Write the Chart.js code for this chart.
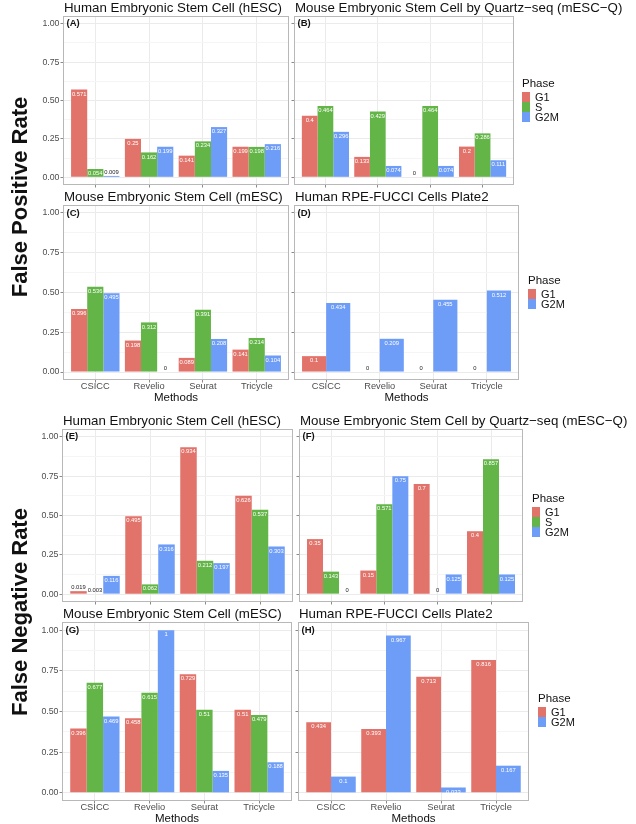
<!DOCTYPE html>
<html>
<head>
<meta charset="utf-8">
<title>False positive and false negative rates by phase</title>
<script src="https://cdn.jsdelivr.net/npm/chart.js@4.4.1/dist/chart.umd.min.js"></script>
<style>
    body { margin: 0; background: #fff; font-family: "Liberation Sans", Arial, sans-serif; color: #111; }
    #page { position: relative; width: 636px; height: 824px; overflow: hidden; }
    .panel { position: absolute; }
    .title { position: absolute; font-size: 13.3px; line-height: 14px; white-space: nowrap; }
    .axis-title { position: absolute; font-size: 11.5px; line-height: 12px; white-space: nowrap; transform: translateX(-50%); }
    .big-label { position: absolute; font-size: 22px; font-weight: bold; white-space: nowrap;
                 transform: translate(-50%, -50%) rotate(-90deg); }
    .legend { position: absolute; font-size: 11px; }
    .legend .head { font-size: 11.5px; line-height: 14px; margin-bottom: 2px; }
    .legend .row { height: 10px; line-height: 10px; white-space: nowrap; }
    .legend .key { display: inline-block; width: 8px; height: 10px; vertical-align: top; margin-right: 5px; }
</style>
</head>
<body>
<div id="page"></div>
<script>
// Categories and ticks
const methods = ['CSICC', 'Revelio', 'Seurat', 'Tricycle'];
const majorTicks = [0, 0.25, 0.5, 0.75, 1];
const minorTicks = [0.125, 0.375, 0.625, 0.875];

// False positive rate
const fprHescG1 = [0.571, 0.25, 0.141, 0.199];
const fprHescS = [0.054, 0.162, 0.234, 0.198];
const fprHescG2M = [0.009, 0.199, 0.327, 0.216];
const fprMescqG1 = [0.4, 0.133, 0, 0.2];
const fprMescqS = [0.464, 0.429, 0.464, 0.286];
const fprMescqG2M = [0.296, 0.074, 0.074, 0.111];
const fprMescG1 = [0.396, 0.198, 0.089, 0.141];
const fprMescS = [0.536, 0.312, 0.391, 0.214];
const fprMescG2M = [0.495, 0, 0.208, 0.104];
const fprRpeG1 = [0.1, 0, 0, 0];
const fprRpeG2M = [0.434, 0.209, 0.455, 0.512];

// False negative rate
const fnrHescG1 = [0.019, 0.495, 0.934, 0.626];
const fnrHescS = [0.003, 0.062, 0.212, 0.537];
const fnrHescG2M = [0.116, 0.316, 0.197, 0.303];
const fnrMescqG1 = [0.35, 0.15, 0.7, 0.4];
const fnrMescqS = [0.143, 0.571, 0, 0.857];
const fnrMescqG2M = [0, 0.75, 0.125, 0.125];
const fnrMescG1 = [0.396, 0.458, 0.729, 0.51];
const fnrMescS = [0.677, 0.615, 0.51, 0.479];
const fnrMescG2M = [0.469, 1, 0.135, 0.188];
const fnrRpeG1 = [0.434, 0.393, 0.713, 0.816];
const fnrRpeG2M = [0.1, 0.967, 0.033, 0.167];

const phaseColors = { G1: '#E2736B', S: '#63B548', G2M: '#6E9DF8' };
const FONT = '"Liberation Sans", Arial, sans-serif';

// box = [left, right, top, bottom] of the grey panel border, page pixels
const panels = [
    { letter: 'A', title: 'Human Embryonic Stem Cell (hESC)', box: [63, 289, 16, 185], yLabels: true, xLabels: false,
      series: { G1: fprHescG1, S: fprHescS, G2M: fprHescG2M } },
    { letter: 'B', title: 'Mouse Embryonic Stem Cell by Quartz\u2212seq (mESC\u2212Q)', box: [294, 514, 16, 185], yLabels: false, xLabels: false,
      series: { G1: fprMescqG1, S: fprMescqS, G2M: fprMescqG2M }, legend: [522, 83] },
    { letter: 'C', title: 'Mouse Embryonic Stem Cell (mESC)', box: [63, 289, 205, 380], yLabels: true, xLabels: true,
      series: { G1: fprMescG1, S: fprMescS, G2M: fprMescG2M } },
    { letter: 'D', title: 'Human RPE-FUCCI Cells Plate2', box: [294, 519, 205, 380], yLabels: false, xLabels: true,
      series: { G1: fprRpeG1, G2M: fprRpeG2M }, legend: [528, 280] },
    { letter: 'E', title: 'Human Embryonic Stem Cell (hESC)', box: [62, 293, 429, 602], yLabels: true, xLabels: false,
      series: { G1: fnrHescG1, S: fnrHescS, G2M: fnrHescG2M } },
    { letter: 'F', title: 'Mouse Embryonic Stem Cell by Quartz\u2212seq (mESC\u2212Q)', box: [299, 523, 429, 602], yLabels: false, xLabels: false,
      series: { G1: fnrMescqG1, S: fnrMescqS, G2M: fnrMescqG2M }, legend: [532, 498] },
    { letter: 'G', title: 'Mouse Embryonic Stem Cell (mESC)', box: [62, 292, 622, 801], yLabels: true, xLabels: true,
      series: { G1: fnrMescG1, S: fnrMescS, G2M: fnrMescG2M } },
    { letter: 'H', title: 'Human RPE-FUCCI Cells Plate2', box: [298, 529, 622, 801], yLabels: false, xLabels: true,
      series: { G1: fnrRpeG1, G2M: fnrRpeG2M }, legend: [538, 698] }
];

// value labels, panel border and panel letter
const panelDecor = {
    id: 'panelDecor',
    afterDatasetsDraw(chart, args, opts) {
        const ctx = chart.ctx;
        const a = chart.chartArea;
        ctx.save();
        ctx.font = '5.8px ' + FONT;
        ctx.textAlign = 'center';
        ctx.textBaseline = 'middle';
        chart.data.datasets.forEach((ds, i) => {
            chart.getDatasetMeta(i).data.forEach((bar, j) => {
                const v = ds.data[j].y;
                if (v >= 0.03) {
                    ctx.fillStyle = '#ffffff';
                    ctx.fillText(String(v), bar.x, bar.y + 4.5);
                } else {
                    ctx.fillStyle = '#222222';
                    ctx.fillText(String(v), bar.x, bar.y - 3.5);
                }
            });
        });
        ctx.strokeStyle = '#B8B8B8';
        ctx.lineWidth = 1;
        ctx.strokeRect(Math.round(a.left) + 0.5, Math.round(a.top) + 0.5,
                       Math.round(a.width) - 1, Math.round(a.height) - 1);
        ctx.font = 'bold 9.5px ' + FONT;
        ctx.fillStyle = '#111';
        ctx.textAlign = 'left';
        ctx.fillText('(' + opts.letter + ')', a.left + 3.5, chart.scales.y.getPixelForValue(1));
        ctx.restore();
    }
};

const page = document.getElementById('page');

function addDiv(cls, text, css) {
    const d = document.createElement('div');
    d.className = cls;
    d.textContent = text;
    d.style.cssText = css;
    page.appendChild(d);
    return d;
}

function addLegend(phases, x, y) {
    const lg = document.createElement('div');
    lg.className = 'legend';
    lg.style.cssText = `left:${x}px; top:${y - 7}px;`;
    let html = '<div class="head">Phase</div>';
    phases.forEach(p => {
        html += `<div class="row"><span class="key" style="background:${phaseColors[p]}"></span>${p}</div>`;
    });
    lg.innerHTML = html;
    page.appendChild(lg);
}

function drawPanel(p) {
    const [L, R, T, B] = p.box;
    const yw = 32;
    const xh = p.xLabels ? 18 : 5;
    const canvas = document.createElement('canvas');
    const w = R - L + yw + 2;
    const h = B - T + 2 + xh;
    canvas.width = w;
    canvas.height = h;
    canvas.className = 'panel';
    canvas.style.cssText = `left:${L - yw}px; top:${T - 2}px; width:${w}px; height:${h}px;`;
    page.appendChild(canvas);

    const phases = Object.keys(p.series);
    const datasets = phases.map(ph => ({
        label: ph,
        data: p.series[ph].map((v, i) => ({ x: i + 1, y: v })),
        backgroundColor: phaseColors[ph],
        borderWidth: 0,
        categoryPercentage: 0.9,
        barPercentage: 1.0
    }));

    new Chart(canvas, {
        type: 'bar',
        data: { datasets: datasets },
        options: {
            responsive: false,
            animation: false,
            layout: { padding: { left: 0, top: 2, right: 2, bottom: 0 } },
            plugins: {
                legend: { display: false },
                tooltip: { enabled: false },
                panelDecor: { letter: p.letter }
            },
            scales: {
                x: {
                    type: 'linear',
                    min: 0.4,
                    max: 4.6,
                    offset: false,
                    border: { display: false },
                    grid: { offset: false, color: '#EBEBEB', tickColor: '#8A8A8A', tickLength: 2.5, lineWidth: 1 },
                    ticks: {
                        padding: -0.5,
                        color: '#4D4D4D',
                        font: { family: FONT, size: 9.3, lineHeight: 1 },
                        maxRotation: 0,
                        autoSkip: false,
                        callback: v => p.xLabels ? methods[v - 1] : ''
                    },
                    afterBuildTicks: s => { s.ticks = methods.map((m, i) => ({ value: i + 1 })); },
                    afterFit: s => {
                        s.height = xh;
                        s.paddingLeft = 0; s.paddingRight = 0; s.paddingTop = 0; s.paddingBottom = 0;
                    }
                },
                y: {
                    min: -0.05,
                    max: 1.05,
                    border: { display: false },
                    grid: {
                        color: c => (c.tick && majorTicks.includes(c.tick.value)) ? '#EBEBEB' : '#F5F5F5',
                        tickColor: c => (c.tick && majorTicks.includes(c.tick.value)) ? '#8A8A8A' : 'rgba(0,0,0,0)',
                        tickLength: 2.5,
                        lineWidth: 1
                    },
                    ticks: {
                        padding: 1,
                        color: '#4D4D4D',
                        autoSkip: false,
                        font: { family: FONT, size: 8.8, lineHeight: 1 },
                        callback: v => (p.yLabels && majorTicks.includes(v)) ? v.toFixed(2) : ''
                    },
                    afterBuildTicks: s => {
                        s.ticks = majorTicks.concat(minorTicks).sort((a, b) => a - b).map(v => ({ value: v }));
                    },
                    afterFit: s => {
                        s.width = yw;
                        s.paddingLeft = 0; s.paddingRight = 0; s.paddingTop = 0; s.paddingBottom = 0;
                    }
                }
            }
        },
        plugins: [panelDecor]
    });

    addDiv('title', p.title, `left:${L + 1}px; top:${T - 15.5}px;`);
    if (p.xLabels) {
        addDiv('axis-title', 'Methods', `left:${(L + R) / 2}px; top:${B + 11}px;`);
    }
    if (p.legend) {
        addLegend(phases, p.legend[0], p.legend[1]);
    }
}

panels.forEach(drawPanel);

addDiv('big-label', 'False Positive Rate', 'left:20px; top:197px;');
addDiv('big-label', 'False Negative Rate', 'left:20px; top:612px;');
</script>
</body>
</html>
